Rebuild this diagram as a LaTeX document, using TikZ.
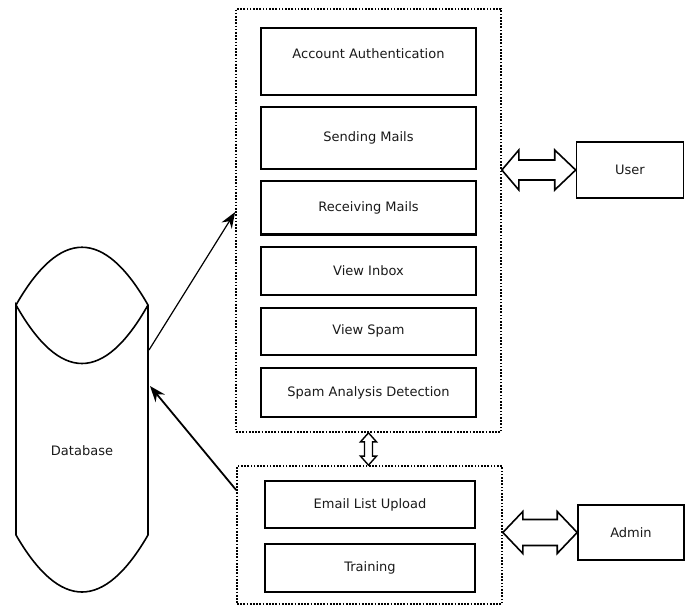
\documentclass[tikz,border=0pt]{standalone}
\usepackage{fontspec}
\setmainfont{DejaVu Sans}
\usepackage{tikz}
\usetikzlibrary{positioning,calc,arrows.meta}
\tikzstyle{dotbox} = [draw=black, line width=1.7pt, dash pattern=on 1.7pt off 1.5pt,
    rectangle, inner sep=0pt]
\tikzstyle{modbox} = [draw=black, line width=2.2pt, rectangle, minimum width=215pt, inner sep=0pt]
\tikzstyle{actor} = [draw=black, line width=1.6pt, rectangle, minimum width=107pt, minimum height=56pt]
\tikzstyle{fatarrow} = [draw=black, line width=1.6pt, fill=white, line join=miter]
\tikzstyle{link} = [draw=black, line width=1.2pt, -{Stealth[length=16pt,width=12pt]}]

\begin{document}
\begin{tikzpicture}[x=1pt, y=-1pt, font=\fontsize{13pt}{15pt}\selectfont, text=black!90]
\useasboundingbox (0,0) rectangle (691,607);

% frames
\node [dotbox, minimum width=265pt, minimum height=423pt] (top) at (368.5,220.5) {};
\node [dotbox, minimum width=265pt, minimum height=138pt] (bottom) at (369.5,535) {};

% modules
\node [modbox, minimum height=67pt, text depth=16pt] (auth) at (368.5,61.5) {Account Authentication};
\node [modbox, minimum height=62pt, below=10pt of auth] (send) {Sending Mails};
\node [modbox, minimum height=53pt, below=10pt of send] (recv) {Receiving Mails};
\node [modbox, minimum height=48pt, below=10pt of recv] (inbox) {View Inbox};
\node [modbox, minimum height=47pt, below=11pt of inbox] (spam) {View Spam};
\node [modbox, minimum height=49pt, below=11pt of spam] (detect) {Spam Analysis Detection};

\node [modbox, minimum width=210pt, minimum height=47pt] (upload) at (370,504.5) {Email List Upload};
\node [modbox, minimum width=210pt, minimum height=48pt, below=14pt of upload] (train) {Training};

% actors
\node [actor] (user) at (630,170) {User};
\node [actor, minimum width=106pt, minimum height=55pt] (admin) at (631,532.5) {Admin};

% database
\draw [line width=1.6pt] (16,305) .. controls (60,228) and (104,228) .. (148,305)
    .. controls (104,383) and (60,383) .. (16,305) -- (16,535)
    .. controls (60,611) and (104,611) .. (148,535) -- (148,305);
\node (dbtext) at (82,451) {Database};
\coordinate (dbout) at (149,350);
\coordinate (dbin) at (150,386);

% links
\draw [link] (dbout) -- (top.west |- 0,212);
\draw [link, line width=1.8pt] (bottom.west |- 0,490) -- (dbin);

\draw [fatarrow] let \p1=(top.east |- user.west), \p2=(user.west) in
    (\p1) -- ++(17pt,20pt) -- ++(0,-10pt) -- (\x2-21pt,\y1+10pt) -- ++(0,10pt) -- (\p2)
    -- ++(-21pt,-20pt) -- ++(0,10pt) -- (\x1+17pt,\y1-10pt) -- ++(0,-10pt) -- cycle;
\draw [fatarrow] let \p1=(bottom.east |- admin.west), \p2=(admin.west) in
    (\p1) -- ++(20pt,21pt) -- ++(0,-8pt) -- (\x2-20pt,\y1+13pt) -- ++(0,8pt) -- (\p2)
    -- ++(-20pt,-21pt) -- ++(0,8pt) -- (\x1+20pt,\y1-13pt) -- ++(0,-8pt) -- cycle;
\draw [fatarrow, line width=1.4pt] let \p1=(top.south), \p2=(top.south |- bottom.north) in
    (\p1) -- ++(8pt,-9pt) -- ++(-4pt,0) -- (\x1+4pt,\y2+9pt) -- ++(4pt,0) -- (\p2)
    -- ++(-8pt,9pt) -- ++(4pt,0) -- (\x1-4pt,\y1-9pt) -- ++(-4pt,0) -- cycle;
\end{tikzpicture}
\end{document}
